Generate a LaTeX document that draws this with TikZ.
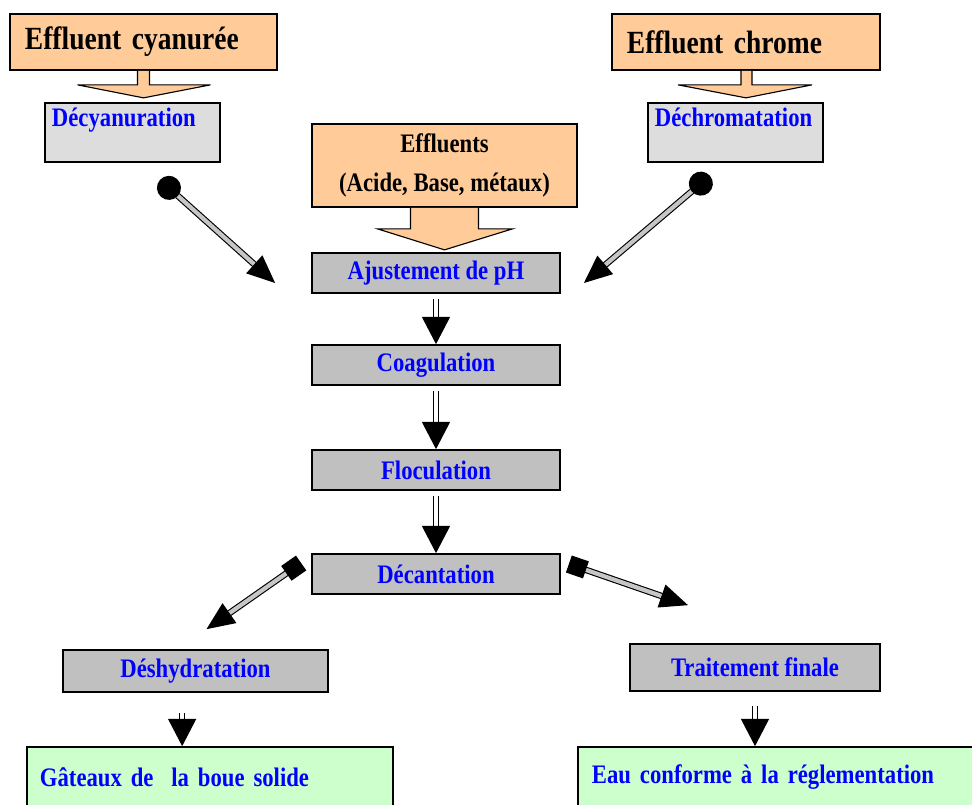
\documentclass[tikz,border=0pt]{standalone}
\usepackage{fontspec}
\setmainfont{Liberation Serif}[FakeStretch=0.85]
\usetikzlibrary{arrows.meta}

\definecolor{peach}{HTML}{FFCC99}
\definecolor{lgray}{HTML}{DDDDDD}
\definecolor{mgray}{HTML}{C0C0C0}
\definecolor{lgreen}{HTML}{CCFFCC}

\begin{document}
\begin{tikzpicture}[x=0.025cm, y=-0.025cm,
    box/.style={draw, line width=1.2pt, inner sep=0pt, text=blue,
      font=\bfseries\fontsize{19}{22}\selectfont},
    srcbox/.style={box, fill=peach, text=black},
    step1/.style={box, fill=lgray, align=left},
    stepbox/.style={box, fill=mgray, minimum width=6.2cm, minimum height=1cm},
    endbox/.style={box, fill=lgreen, align=left, minimum height=1.5cm},
    callout/.style={draw, line width=0.8pt, fill=peach, line join=miter},
    dbl/.style={double, double distance=2.5pt, line width=0.8pt,
      -{Triangle[length=0.68cm, width=0.7cm]}},
    link/.style={line width=0.8pt, double=gray!45, double distance=3pt},
    dotlink/.style={link, {Circle[length=0.6cm]}-{Triangle[length=0.7cm, width=0.6cm]}},
    sqlink/.style={link, {Square[length=0.45cm]}-{Triangle[length=0.7cm, width=0.6cm]}}]
  \clip (0,0) rectangle (972,804);

  % sources
  \node[srcbox, minimum width=6.675cm, minimum height=1.4cm, text width=5.925cm,
    align=left, font=\bfseries\fontsize{23}{26}\selectfont] (cyan) at (143.5,42) {Effluent cyanurée};
  \node[srcbox, minimum width=6.7cm, minimum height=1.4cm, text width=5.95cm,
    align=left, font=\bfseries\fontsize{23}{26}\selectfont] (chrome) at (746,42) {Effluent chrome};
  \node[srcbox, minimum width=6.625cm, minimum height=2.075cm, align=center,
    font=\bfseries\fontsize{19}{25}\selectfont] (eff) at (444.5,165.5) {Effluents\\[3pt](Acide, Base, métaux)};

  \draw[callout] (cyan.south) ++(-6,0) -- ++(0,14) -- ++(-60,0) -- ++(66,13)
    -- ++(67,-13) -- ++(-61,0) -- ++(0,-14);
  \draw[callout] (chrome.south) ++(-5,0) -- ++(0,14) -- ++(-63,0) -- ++(68,13)
    -- ++(66,-13) -- ++(-60,0) -- ++(0,-14);
  \draw[callout] (eff.south) ++(-34,0) -- ++(0,21) -- ++(-33,0) -- ++(67,21)
    -- ++(68,-21) -- ++(-34,0) -- ++(0,-21);

  % pretreatment
  \node[step1, minimum width=4.375cm, minimum height=1.475cm, text width=4.025cm]
    (decy) at (132.5,132.5) {\mbox{Décyanuration}\\\mbox{}};
  \node[step1, minimum width=4.375cm, minimum height=1.475cm, text width=4.025cm]
    (dechrom) at (735.5,132.5) {\mbox{Déchromatation}\\\mbox{}};

  % main line
  \node[stepbox] (ph) at (436,273) {Ajustement de pH};
  \node[stepbox] (coag) at (436,365) {Coagulation};
  \node[stepbox] (floc) at (436,470) {Floculation};
  \node[stepbox] (dec) at (436,574) {Décantation};
  \foreach \a/\b in {ph/coag, coag/floc, floc/dec}
    \draw[dbl, shorten <=0.125cm] (\a) -- (\b);

  \node[stepbox, minimum width=6.625cm, minimum height=1.05cm] (desh) at (195.5,671) {Déshydratation};
  \node[stepbox, minimum width=6.25cm, minimum height=1.175cm] (trait) at (755,667.5) {Traitement finale};
  \node[endbox, minimum width=9.15cm, text width=8.5cm] (gat) at (210,777) {Gâteaux\ de\ \ la boue solide};
  \node[endbox, minimum width=10.35cm, text width=9.65cm] (eau) at (785,777) {Eau conforme à la réglementation};

  % links
  \coordinate (o1) at ([shift={(27.5,17)}]decy.south);
  \coordinate (i1) at ([shift={(-36,10)}]ph.west);
  \coordinate (o2) at ([shift={(-25.5,13)}]dechrom.south);
  \coordinate (i2) at ([shift={(23,10)}]ph.east);
  \coordinate (o3) at ([shift={(-10,-11)}]dec.west);
  \coordinate (i3) at ([shift={(11,-20)}]desh.north);
  \coordinate (o4) at ([shift={(8,-10)}]dec.east);
  \coordinate (i4) at ([shift={(-67,-38)}]trait.north);
  \draw[dotlink] (o1) -- (i1);
  \draw[dotlink] (o2) -- (i2);
  \draw[sqlink] (o3) -- (i3);
  \draw[sqlink] (o4) -- (i4);

  \draw[dbl, shorten <=0.5cm] ([xshift=-9.5]desh.south) -- ([xshift=-9.5]desh.south |- gat.north);
  \draw[dbl, shorten <=0.35cm] (trait) -- (trait |- eau.north);
\end{tikzpicture}
\end{document}
